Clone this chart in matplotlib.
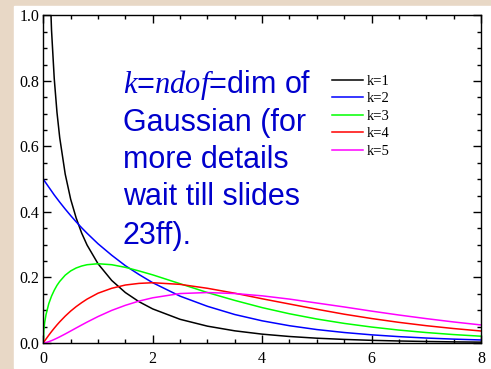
import numpy as np
import matplotlib
matplotlib.use("Agg")
import matplotlib.pyplot as plt
from matplotlib.patches import Rectangle
from matplotlib.ticker import MultipleLocator

plt.rcParams['font.family'] = ['Liberation Serif', 'DejaVu Serif']
plt.rcParams['mathtext.fontset'] = 'custom'
plt.rcParams['mathtext.it'] = 'Liberation Serif:italic'
plt.rcParams['mathtext.rm'] = 'Liberation Sans'

# values
x = [0.0, 0.01, 0.025, 0.05, 0.1, 0.15, 0.2, 0.25, 0.3, 0.4, 0.5, 0.6, 0.7, 0.8,
     1.0, 1.25, 1.5, 1.75, 2.0, 2.5, 3.0, 3.5, 4.0, 4.5, 5.0, 5.5, 6.0, 6.5,
     7.0, 7.5, 8.0]
k1 = [np.nan, 3.97, 2.49, 1.74, 1.20, 0.956, 0.807, 0.704, 0.627, 0.516, 0.439,
      0.382, 0.336, 0.299, 0.242, 0.191, 0.154, 0.126, 0.104, 0.0723, 0.0514,
      0.0371, 0.0270, 0.0198, 0.0146, 0.0109, 0.0081, 0.0061, 0.0046, 0.0034,
      0.0026]
k2 = [0.500, 0.4975, 0.494, 0.488, 0.476, 0.464, 0.452, 0.441, 0.430, 0.409,
      0.389, 0.370, 0.352, 0.335, 0.303, 0.268, 0.236, 0.209, 0.184, 0.143,
      0.112, 0.0869, 0.0677, 0.0527, 0.0410, 0.0320, 0.0249, 0.0194, 0.0151,
      0.0118, 0.0092]
k3 = [0.0, 0.0397, 0.0623, 0.087, 0.120, 0.143, 0.161, 0.176, 0.188, 0.207,
      0.220, 0.229, 0.235, 0.239, 0.242, 0.239, 0.231, 0.220, 0.208, 0.181,
      0.154, 0.130, 0.108, 0.0892, 0.0732, 0.0598, 0.0487, 0.0394, 0.0319,
      0.0257, 0.0207]
k4 = [0.0, 0.0025, 0.0062, 0.0122, 0.0238, 0.0348, 0.0452, 0.0552, 0.0646,
      0.0819, 0.0974, 0.111, 0.123, 0.134, 0.152, 0.167, 0.177, 0.182, 0.184,
      0.179, 0.167, 0.152, 0.135, 0.119, 0.103, 0.0879, 0.0747, 0.0630, 0.0528,
      0.0441, 0.0366]
k5 = [0.0, 0.0001, 0.0005, 0.0015, 0.0040, 0.0072, 0.0108, 0.0147, 0.0188,
      0.0275, 0.0366, 0.0458, 0.0549, 0.0638, 0.0807, 0.0995, 0.115, 0.128,
      0.138, 0.151, 0.154, 0.151, 0.144, 0.134, 0.122, 0.110, 0.0973, 0.0854,
      0.0744, 0.0642, 0.0551]

series = [k1, k2, k3, k4, k5]
labels = ['k=1', 'k=2', 'k=3', 'k=4', 'k=5']
colors = ['black', '#0000ff', '#00ff00', '#ff0000', '#ff00ff']

fig = plt.figure(figsize=(4.91, 3.69), dpi=100, facecolor='#e8d8c6')
# white slide panel behind the plot
fig.patches.append(Rectangle((14 / 491, 1 / 369), 1, 362 / 369,
                             transform=fig.transFigure, color='white',
                             zorder=-10))

ax = fig.add_axes([0.0882, 0.0705, 0.8914, 0.8875])
ax.set_facecolor('white')
for y, lab, c in zip(series, labels, colors):
    ax.plot(x, y, color=c, lw=1.1, label=lab)

ax.set_xlim(0, 8)
ax.set_ylim(0, 1.0)
ax.xaxis.set_major_locator(MultipleLocator(2))
ax.xaxis.set_minor_locator(MultipleLocator(0.5))
ax.yaxis.set_major_locator(MultipleLocator(0.2))
ax.yaxis.set_minor_locator(MultipleLocator(0.05))
ax.xaxis.set_major_formatter(plt.FuncFormatter(lambda v, p: '%d' % v))
ax.yaxis.set_major_formatter(plt.FuncFormatter(lambda v, p: '%.1f' % v))
ax.tick_params(which='both', direction='in', top=True, right=True,
               labelsize=11.5, width=1.0)
ax.tick_params(which='major', length=6)
ax.tick_params(which='minor', length=3)
ax.tick_params(axis='x', pad=6)
ax.tick_params(axis='y', pad=3)
for s in ax.spines.values():
    s.set_linewidth(1.0)

ax.legend(loc='upper left', bbox_to_anchor=(0.66, 0.82), frameon=False,
          fontsize=10.5, handlelength=2.1, handletextpad=0.3, labelspacing=0.3,
          borderaxespad=0, borderpad=0)

lines = [r'$k$=$ndof$=dim of', 'Gaussian (for', 'more details',
         'wait till slides', '23ff).']
baselines = [93, 131, 168, 205, 244]
for t, b in zip(lines, baselines):
    fig.text(123 / 491, 1 - b / 369, t, color='#0000cc', fontsize=22,
             family='Liberation Sans', va='baseline', ha='left')

fig.savefig('out.png', dpi=100, facecolor=fig.get_facecolor())
